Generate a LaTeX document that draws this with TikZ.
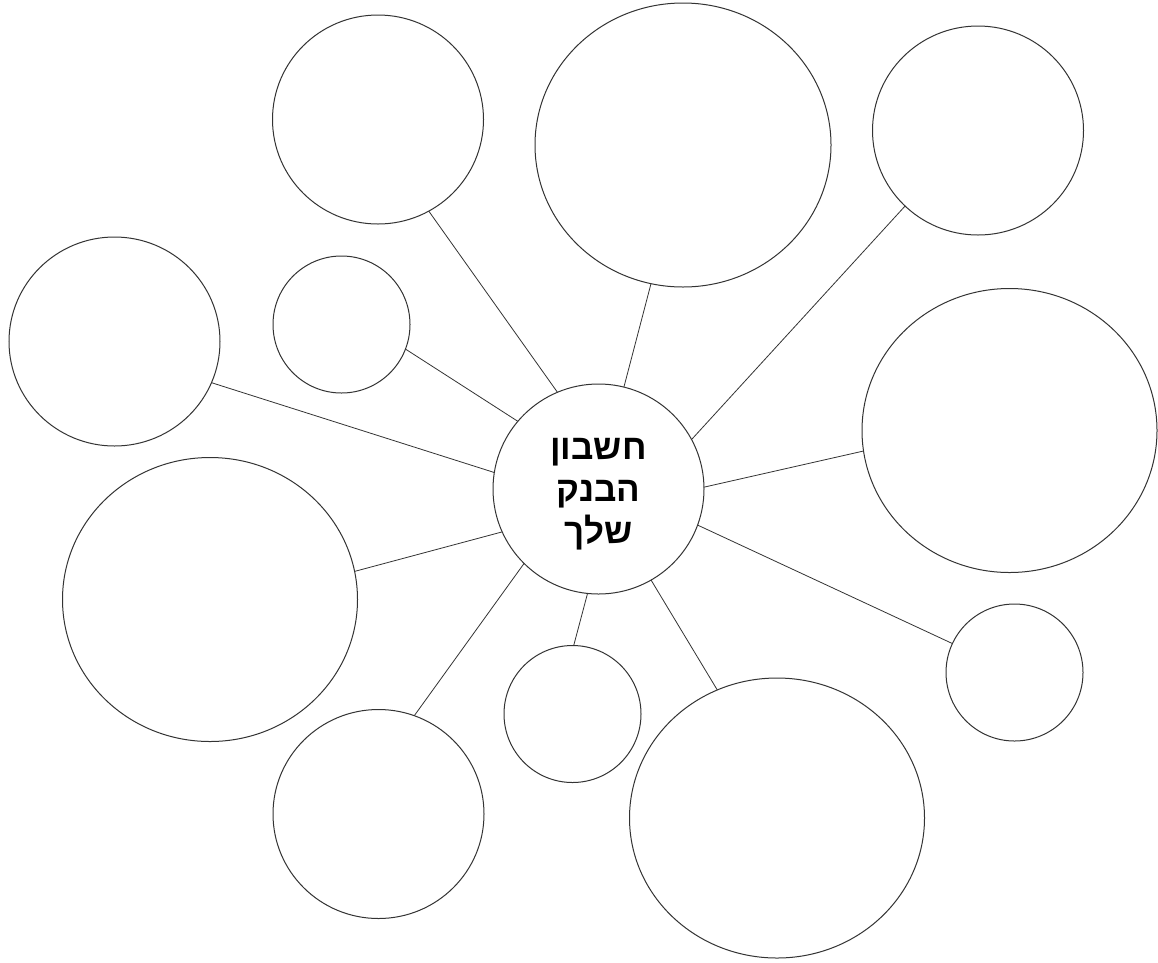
\documentclass[tikz,border=0pt]{standalone}
\usepackage{fontspec}
\usetikzlibrary{shapes.geometric}
\newfontfamily\hebfont[Script=Hebrew]{Liberation Sans}
\TeXXeTstate=1
\begin{document}
\begin{tikzpicture}[x=1pt,y=-1pt,
  bub/.style={ellipse,draw=black!80,line width=1pt,inner sep=0pt,outer sep=0pt,fill=white},
  bigc/.style={bub,minimum width=295pt,minimum height=284pt},
  medc/.style={bub,minimum width=211pt,minimum height=209pt},
  smlc/.style={bub,minimum width=137pt,minimum height=137pt},
  link/.style={draw=black!80,line width=0.8pt},
  hubtext/.style={align=center,inner sep=0pt,font=\hebfont\bfseries\fontsize{35}{42}\selectfont}]
\path[use as bounding box,fill=white] (0,0) rectangle (1158,962);
% hub
\node[medc,minimum height=210pt] (hub) at (598.5,489) {};
\node[hubtext] (hubtxt) at (598.5,494) 
  {\beginR חשבון\endR\\\beginR הבנק\endR\\\beginR שלך\endR};
% outer circles
\node[medc] (tl) at (378,119.5) {};
\node[bigc,minimum width=296pt] (tc) at (683,145) {};
\node[medc] (tr) at (978,130.5) {};
\node[medc] (lf) at (114.5,341.5) {};
\node[smlc] (sl) at (341.5,324.5) {};
\node[bigc] (rb) at (1009.5,430.5) {};
\node[bigc] (lb) at (210,599.5) {};
\node[medc] (bl) at (378.5,814) {};
\node[smlc] (sb) at (572.5,714) {};
\node[bigc,minimum height=280pt] (bb) at (777,818) {};
\node[smlc] (rs) at (1014.5,672.5) {};
% connectors
\draw[link] (hub.113.7) -- (tl.-61);
\draw[link] (hub.76.7) -- (tc.-103.1);
\draw[link] (hub.28.8) -- (tr.-134.4);
\draw[link] (hub.171.8) -- (lf.-23.8);
\draw[link] (hub.140.9) -- (sl.-21.7);
\draw[link] (hub.1.1) -- (rb.-172);
\draw[link] (hub.-156.7) -- (lb.11);
\draw[link] (hub.-135.6) -- (bl.70.8);
\draw[link] (hub.-96.8) -- (sb.89.6);
\draw[link] (hub.-60.4) -- (bb.115.5);
\draw[link] (hub.-20.9) -- (rs.155.8);
\end{tikzpicture}
\end{document}
